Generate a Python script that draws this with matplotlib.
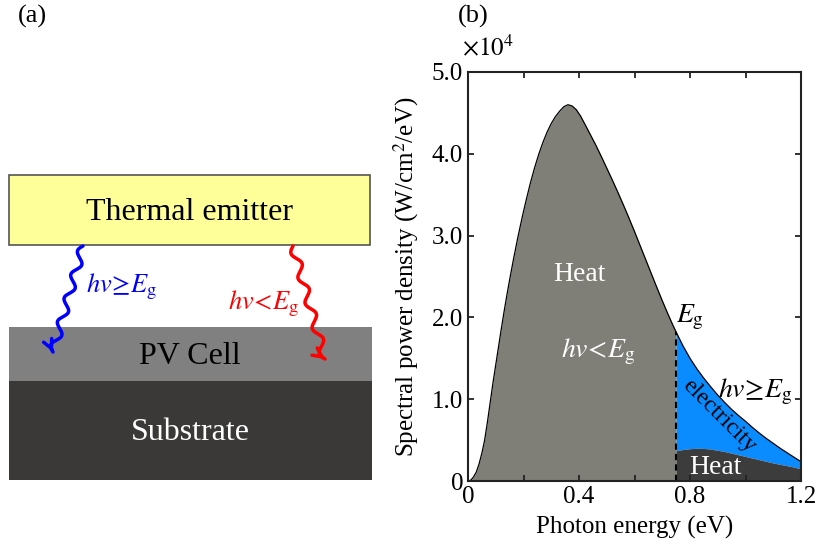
import matplotlib
matplotlib.use("Agg")
import matplotlib.pyplot as plt
from matplotlib.patches import Rectangle
import numpy as np

plt.rcParams['font.family'] = ['Liberation Serif', 'DejaVu Serif']
plt.rcParams['mathtext.fontset'] = 'stix'

# spectrum, photon energy (eV) vs power density (x1e4 W/cm2/eV)
e_lo = [0.0, 0.01, 0.02, 0.03, 0.04, 0.05, 0.06, 0.07, 0.08, 0.09, 0.10, 0.11,
        0.12, 0.13, 0.14, 0.15, 0.165, 0.18, 0.195, 0.21, 0.225, 0.24, 0.255,
        0.27, 0.285, 0.30, 0.315, 0.33, 0.345, 0.36, 0.375, 0.39, 0.405, 0.42,
        0.44, 0.46, 0.48, 0.50, 0.52, 0.54, 0.56, 0.58, 0.60, 0.62, 0.64,
        0.66, 0.68, 0.70, 0.72, 0.735, 0.75]
p_lo = [0.0, 0.01, 0.05, 0.11, 0.21, 0.34, 0.50, 0.72, 0.96, 1.20, 1.42, 1.64,
        1.86, 2.07, 2.27, 2.46, 2.73, 2.985, 3.22, 3.44, 3.645, 3.83, 3.995,
        4.14, 4.265, 4.37, 4.455, 4.52, 4.575, 4.60, 4.585, 4.54, 4.465, 4.37,
        4.24, 4.11, 3.97, 3.825, 3.68, 3.53, 3.375, 3.215, 3.05, 2.88, 2.71,
        2.54, 2.37, 2.205, 2.045, 1.93, 1.82]
e_hi = [0.75, 0.775, 0.80, 0.825, 0.85, 0.875, 0.90, 0.925, 0.95, 0.975, 1.0,
        1.025, 1.05, 1.075, 1.10, 1.125, 1.15, 1.175, 1.2]
p_hi = [1.82, 1.65, 1.50, 1.37, 1.255, 1.15, 1.05, 0.96, 0.875, 0.80, 0.73,
        0.655, 0.585, 0.52, 0.46, 0.40, 0.345, 0.29, 0.236]
heat_hi = [0.37, 0.385, 0.395, 0.40, 0.398, 0.39, 0.375, 0.36, 0.34, 0.32, 0.30,
           0.28, 0.26, 0.24, 0.22, 0.203, 0.187, 0.17, 0.148]

e_gap = 0.75
x_ticks = [0, 0.2, 0.4, 0.6, 0.8, 1.0, 1.2]
x_labels = ['0', '', '0.4', '', '0.8', '', '1.2']
y_ticks = [0, 1, 2, 3, 4, 5]
y_labels = ['0', '1.0', '2.0', '3.0', '4.0', '5.0']

fig = plt.figure(figsize=(8.17, 5.54), dpi=100)

# ---- panel (a): schematic, drawn in pixel coordinates
ax0 = fig.add_axes([0, 0, 1, 1])
ax0.set_xlim(0, 817)
ax0.set_ylim(554, 0)
ax0.axis('off')

ax0.add_patch(Rectangle((9, 175), 361, 70, facecolor='#ffff99', edgecolor='#555555', lw=1.2))
ax0.add_patch(Rectangle((9, 327), 363, 54, facecolor='#808080', edgecolor='none'))
ax0.add_patch(Rectangle((9, 381), 363, 99, facecolor='#3a3938', edgecolor='none'))
ax0.text(190, 212, 'Thermal emitter', fontsize=23, ha='center', va='center')
ax0.text(190, 356, 'PV Cell', fontsize=23, ha='center', va='center')
ax0.text(190, 432, 'Substrate', fontsize=23, ha='center', va='center', color='white')
ax0.text(32, 16, '(a)', fontsize=19, ha='center', va='center')
ax0.text(473, 16, '(b)', fontsize=19, ha='center', va='center')


def wavy(start, end, color, n=4.5, amp=4.0):
    t = np.linspace(0, 1, 300)
    sx, sy = start
    ex, ey = end
    dx, dy = ex - sx, ey - sy
    L = np.hypot(dx, dy)
    nx, ny = -dy / L, dx / L
    w = amp * np.sin(2 * np.pi * n * t)
    xs = sx + t * dx + w * nx
    ys = sy + t * dy + w * ny
    ax0.plot(xs, ys, color=color, lw=2.5, solid_capstyle='round')
    ax0.annotate('', xy=(xs[-1], ys[-1]), xytext=(xs[-12], ys[-12]),
                 arrowprops=dict(arrowstyle='->', color=color, lw=2.5, mutation_scale=16))


wavy((83, 246), (53, 352), 'blue')
wavy((293, 246), (325, 359), 'red')
ax0.text(86, 287, r'$hv\!\geq\! E_{\rm g}$', fontsize=19, color='blue', va='center')
ax0.text(228, 304, r'$hv\!<\! E_{\rm g}$', fontsize=19, color='red', va='center')

# ---- panel (b): spectrum
ax = fig.add_axes([468 / 817, 73 / 554, 333 / 817, 409 / 554])
ax.fill_between(e_lo, 0, p_lo, color='#7f7f77', lw=0)
ax.fill_between(e_hi, heat_hi, p_hi, color='#0a8cff', lw=0)
ax.fill_between(e_hi, 0, heat_hi, color='#3c3c3c', lw=0)
ax.plot(e_lo, p_lo, color='black', lw=0.9)
ax.plot(e_hi, p_hi, color='black', lw=0.9)
ax.plot([e_gap, e_gap], [0, p_hi[0]], color='black', lw=1.5, ls=(0, (3, 2)))

ax.text(0.40, 2.52, 'Heat', fontsize=20, color='white', ha='center', va='center')
ax.text(0.47, 1.58, r'$hv\!<\! E_{\rm g}$', fontsize=20, color='white', ha='center', va='center')
ax.text(0.80, 2.0, r'$E_{\rm g}$', fontsize=20, ha='center', va='center')
ax.text(1.035, 1.09, r'$hv\!\geq\! E_{\rm g}$', fontsize=20, ha='center', va='center')
ax.text(0.905, 0.80, 'electricity', fontsize=17, rotation=-45, ha='center', va='center')
ax.text(0.89, 0.16, 'Heat', fontsize=20, color='white', ha='center', va='center')

ax.set_xlim(0, 1.2)
ax.set_ylim(0, 5)
ax.set_xticks(x_ticks)
ax.set_xticklabels(x_labels)
ax.set_yticks(y_ticks)
ax.set_yticklabels(y_labels)
ax.tick_params(direction='in', length=4, width=1.3, top=True, right=True,
               labelsize=18, colors='#222222', labelcolor='black')
for s in ax.spines.values():
    s.set_linewidth(1.5)
    s.set_color('#222222')
ax.set_xlabel('Photon energy (eV)', fontsize=18, labelpad=6)
ax.set_ylabel(r'Spectral power density (W/cm$^{\rm 2}$/eV)', fontsize=18, labelpad=8)
fig.text(462 / 817, 1 - 47 / 554, r'$\times 10^{4}$', fontsize=18, va='center')

fig.savefig('out.png', dpi=100)
